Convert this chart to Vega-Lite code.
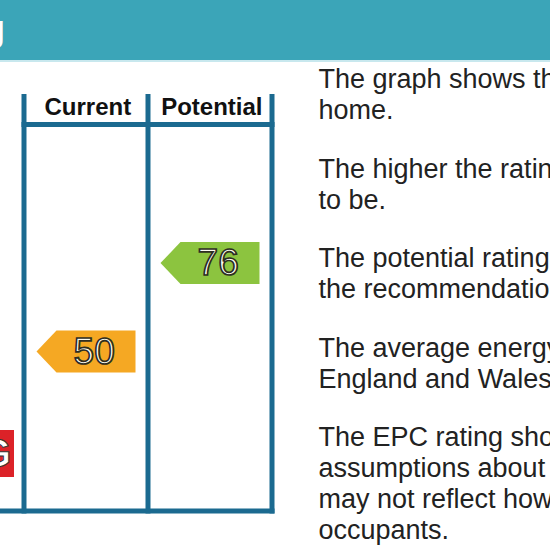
{
  "$schema": "https://vega.github.io/schema/vega-lite/v6.json",
  "width": 550,
  "height": 550,
  "autosize": {"type": "none"},
  "padding": 0,
  "background": "white",
  "config": {"view": {"stroke": null}, "axis": {"disable": true}, "legend": {"disable": true}},
  "datasets": {
    "ratings": [
      {"column": "Current", "col": 0, "rating": 50, "band": "E"},
      {"column": "Potential", "col": 1, "rating": 76, "band": "C"}
    ],
    "boundaries": [{"edge": -0.5}, {"edge": 0.5}, {"edge": 1.5}],
    "lowest": [{"band": "G"}],
    "notes": [
      {"para": 1, "text": "The graph shows the current energy efficiency of your\nhome."},
      {"para": 2, "text": "The higher the rating the lower your fuel bills are likely\nto be."},
      {"para": 3, "text": "The potential rating shows the effect of undertaking\nthe recommendations on page 3."},
      {"para": 4, "text": "The average energy efficiency rating for a dwelling in\nEngland and Wales is band D (rating 60)."},
      {"para": 5, "text": "The EPC rating shown here is based on standard\nassumptions about occupancy and energy use and\nmay not reflect how energy is consumed by individual\noccupants."}
    ]
  },
  "layer": [
    {
      "layer": [
        {
          "data": {"values": [{}]},
          "mark": {"type": "rect", "color": "#3ba5b8"},
          "encoding": {
            "x": {"datum": -0.693548, "type": "quantitative", "scale": {"domain": [-0.693548, 3.741935], "nice": false, "zero": false}},
            "x2": {"datum": 3.741935},
            "y": {"datum": 135.735, "type": "quantitative", "scale": {"domain": [-8.382, 153.382], "nice": false, "zero": false}},
            "y2": {"datum": 153.382}
          }
        },
        {
          "data": {"values": [{}]},
          "mark": {"type": "rule", "color": "#c8e8ee", "strokeWidth": 2},
          "encoding": {
            "x": {"datum": -0.693548, "type": "quantitative"},
            "x2": {"datum": 3.741935},
            "y": {"datum": 135.44, "type": "quantitative"}
          }
        },
        {
          "data": {"values": [{}]},
          "mark": {"type": "text", "text": "g", "align": "right", "baseline": "alphabetic", "fontSize": 36, "fontWeight": "bold", "font": "Liberation Sans", "color": "white"},
          "encoding": {
            "x": {"datum": -0.6532, "type": "quantitative"},
            "y": {"datum": 141.32, "type": "quantitative"}
          }
        },
        {
          "data": {"name": "boundaries"},
          "mark": {"type": "rule", "color": "#1b6a90", "strokeWidth": 5},
          "encoding": {
            "x": {"field": "edge", "type": "quantitative"},
            "y": {"datum": 125.735, "type": "quantitative"},
            "y2": {"datum": 2.353}
          }
        },
        {
          "data": {"values": [{}]},
          "mark": {"type": "rule", "color": "#1b6a90", "strokeWidth": 5},
          "encoding": {
            "x": {"datum": -0.5202, "type": "quantitative"},
            "x2": {"datum": 1.5202},
            "y": {"datum": 116.76, "type": "quantitative"}
          }
        },
        {
          "data": {"values": [{}]},
          "mark": {"type": "rule", "color": "#1b6a90", "strokeWidth": 5},
          "encoding": {
            "x": {"datum": -0.693548, "type": "quantitative"},
            "x2": {"datum": 1.5202},
            "y": {"datum": 3.088, "type": "quantitative"}
          }
        },
        {
          "data": {"name": "lowest"},
          "mark": {"type": "rect"},
          "encoding": {
            "x": {"datum": -0.693548, "type": "quantitative"},
            "x2": {"datum": -0.5806},
            "y": {"datum": 13.09, "type": "quantitative"},
            "y2": {"datum": 26.91},
            "color": {"field": "band", "type": "nominal", "scale": {"domain": ["C", "E", "G"], "range": ["#8cc43f", "#f5a823", "#dc2228"]}, "legend": null}
          }
        },
        {
          "data": {"name": "lowest"},
          "mark": {"type": "text", "align": "right", "baseline": "alphabetic", "fontSize": 40, "fontWeight": "bold", "font": "Liberation Sans", "fill": "white", "stroke": "#333333", "strokeWidth": 1},
          "encoding": {
            "x": {"datum": -0.6048, "type": "quantitative"},
            "y": {"datum": 16.03, "type": "quantitative"},
            "text": {"field": "band"}
          }
        },
        {
          "data": {"name": "ratings"},
          "mark": {"type": "point", "shape": "M-1,0L-0.596,-0.424L1,-0.424L1,0.424L-0.596,0.424Z", "size": 9801, "filled": true, "opacity": 1, "strokeWidth": 0},
          "encoding": {
            "x": {"field": "col", "type": "quantitative"},
            "y": {"field": "rating", "type": "quantitative"},
            "color": {"field": "band", "type": "nominal", "scale": {"domain": ["C", "E", "G"], "range": ["#8cc43f", "#f5a823", "#dc2228"]}, "legend": null}
          }
        },
        {
          "data": {"name": "ratings"},
          "mark": {"type": "text", "align": "center", "baseline": "middle", "fontSize": 37, "font": "Liberation Sans", "dx": 8.2, "dy": 1, "fill": "#fffdf2", "stroke": "#2e2e22", "strokeWidth": 1.7},
          "encoding": {
            "x": {"field": "col", "type": "quantitative"},
            "y": {"field": "rating", "type": "quantitative"},
            "text": {"field": "rating", "type": "quantitative"}
          }
        },
        {
          "data": {"name": "ratings"},
          "mark": {"type": "text", "align": "center", "baseline": "middle", "fontSize": 24, "fontWeight": "bold", "font": "Liberation Sans", "color": "#111111", "dx": 1.8, "dy": 1},
          "encoding": {
            "x": {"field": "col", "type": "quantitative"},
            "y": {"datum": 121.91, "type": "quantitative"},
            "text": {"field": "column"}
          }
        }
      ]
    },
    {
      "data": {"name": "notes"},
      "mark": {"type": "text", "align": "left", "baseline": "alphabetic", "fontSize": 27, "font": "Liberation Sans", "color": "#222222", "lineHeight": 31, "lineBreak": "\n", "clip": true},
      "encoding": {
        "x": {"datum": 1.875, "type": "quantitative", "scale": {"domain": [-0.693548, 3.741935], "nice": false, "zero": false}},
        "y": {"field": "para", "type": "quantitative", "scale": {"domain": [0.01676, 6.162], "reverse": true, "nice": false, "zero": false}},
        "text": {"field": "text"}
      }
    }
  ],
  "resolve": {"scale": {"y": "independent"}}
}
